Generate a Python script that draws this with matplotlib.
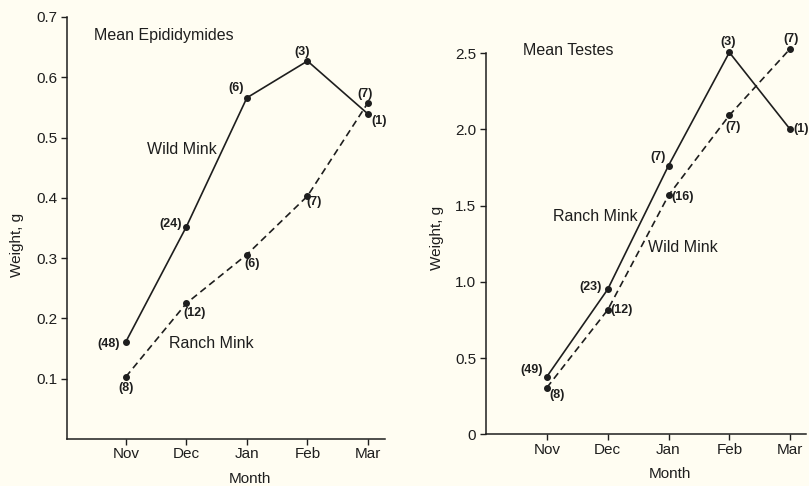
import matplotlib
matplotlib.use("Agg")
import matplotlib.pyplot as plt

plt.rcParams['font.family'] = ['Liberation Sans', 'DejaVu Sans']

months = ["Nov", "Dec", "Jan", "Feb", "Mar"]

# Epididymides
epi_wild = [0.161, 0.352, 0.566, 0.627, 0.539]
epi_wild_n = ["(48)", "(24)", "(6)", "(3)", "(1)"]
epi_ranch = [0.103, 0.225, 0.306, 0.403, 0.558]
epi_ranch_n = ["(8)", "(12)", "(6)", "(7)", "(7)"]
epi_yticks = [0.1, 0.2, 0.3, 0.4, 0.5, 0.6, 0.7]

# Testes
tes_solid = [0.378, 0.951, 1.763, 2.506, 2.001]
tes_solid_n = ["(49)", "(23)", "(7)", "(3)", "(1)"]
tes_dashed = [0.306, 0.816, 1.568, 2.093, 2.530]
tes_dashed_n = ["(8)", "(12)", "(16)", "(7)", "(7)"]
tes_yticks = [0, 0.5, 1.0, 1.5, 2.0, 2.5]
tes_yticklabels = ["0", "0.5", "1.0", "1.5", "2.0", "2.5"]

bg = "#fffdf2"
ink = "#1e1e1e"
W, H = 809, 486
fig = plt.figure(figsize=(W / 100, H / 100), dpi=100, facecolor=bg)

x = [1, 2, 3, 4, 5]
FS = 11
LFS = 9
dash = (0, (4.2, 2.6))
MS = 4

def style(ax):
    ax.set_facecolor(bg)
    for s in ["top", "right"]:
        ax.spines[s].set_visible(False)
    for s in ["left", "bottom"]:
        ax.spines[s].set_color(ink)
        ax.spines[s].set_linewidth(1.1)
    ax.tick_params(colors=ink, labelsize=FS, length=4.5, width=1.0)
    ax.tick_params(axis="x", pad=1.5)
    ax.tick_params(axis="y", pad=2.5)
    ax.set_xticks(x)
    ax.set_xticklabels(months)

def label(ax, xs, ys, texts, offs):
    for xi, yi, t, (dx, dy, ha, va) in zip(xs, ys, texts, offs):
        ax.annotate(t, (xi, yi), xytext=(dx, dy), textcoords="offset pixels", ha=ha, va=va,
                    fontsize=LFS, color=ink, fontweight="bold", annotation_clip=False)

# Left panel
ax1 = fig.add_axes([67 / W, 1 - 439 / H, (385 - 67) / W, (439 - 17) / H])
style(ax1)
ax1.set_xlim(0.03, 5.28)
ax1.set_ylim(0, 0.7)
ax1.set_yticks(epi_yticks)
ax1.set_yticklabels([f"{v:.1f}" for v in epi_yticks])
ax1.plot(x, epi_wild, color=ink, lw=1.2, marker="o", ms=MS)
ax1.plot(x, epi_ranch, color=ink, lw=1.2, ls=dash, marker="o", ms=MS)
label(ax1, x, epi_wild, epi_wild_n,
      [(-6, -2, "right", "center"), (-4, 3, "right", "center"), (-11, 10, "center", "center"),
       (-5, 9, "center", "center"), (3, -7, "left", "center")])
label(ax1, x, epi_ranch, epi_ranch_n,
      [(0, -11, "center", "center"), (-3, -10, "left", "center"), (-3, -9, "left", "center"),
       (-1, -6, "left", "center"), (-3, 9, "center", "center")])
ax1.text(0.472, 0.670, "Mean Epididymides", fontsize=FS + 0.5, color=ink, ha="left", va="center")
ax1.text(1.347, 0.481, "Wild Mink", fontsize=FS + 0.5, color=ink, ha="left", va="center")
ax1.text(1.71, 0.159, "Ranch Mink", fontsize=FS + 0.5, color=ink, ha="left", va="center")

# Right panel
ax2 = fig.add_axes([486 / W, 1 - 434.3 / H, (806 - 486) / W, (434.3 - 53.3) / H])
style(ax2)
ax2.set_xlim(0.0, 5.26)
ax2.set_ylim(0, 2.5)
ax2.set_yticks(tes_yticks)
ax2.set_yticklabels(tes_yticklabels)
ax2.plot(x, tes_solid, color=ink, lw=1.2, marker="o", ms=MS, clip_on=False)
ax2.plot(x, tes_dashed, color=ink, lw=1.2, ls=dash, marker="o", ms=MS, clip_on=False)
label(ax2, x, tes_solid, tes_solid_n,
      [(-4, 7, "right", "center"), (-6, 2, "right", "center"), (-3, 9, "right", "center"),
       (-1, 10, "center", "center"), (3, 0, "left", "center")])
label(ax2, x, tes_dashed, tes_dashed_n,
      [(3, -7, "left", "center"), (3, 0, "left", "center"), (3, -2, "left", "center"),
       (-4, -12, "left", "center"), (1, 10, "center", "center")])
ax2.text(0.60, 2.52, "Mean Testes", fontsize=FS + 0.5, color=ink, ha="left", va="center")
ax2.text(1.10, 1.426, "Ranch Mink", fontsize=FS + 0.5, color=ink, ha="left", va="center")
ax2.text(2.67, 1.227, "Wild Mink", fontsize=FS + 0.5, color=ink, ha="left", va="center")

# Axis titles
fig.text(17.5 / W, 1 - 245 / H, "Weight, g", rotation=90, fontsize=FS, color=ink, ha="center", va="center")
fig.text(437 / W, 1 - 238 / H, "Weight, g", rotation=90, fontsize=FS, color=ink, ha="center", va="center")
fig.text(250 / W, 1 - 479 / H, "Month", fontsize=FS, color=ink, ha="center", va="center")
fig.text(670 / W, 1 - 474 / H, "Month", fontsize=FS, color=ink, ha="center", va="center")

fig.savefig("out.png", dpi=100, facecolor=bg)
